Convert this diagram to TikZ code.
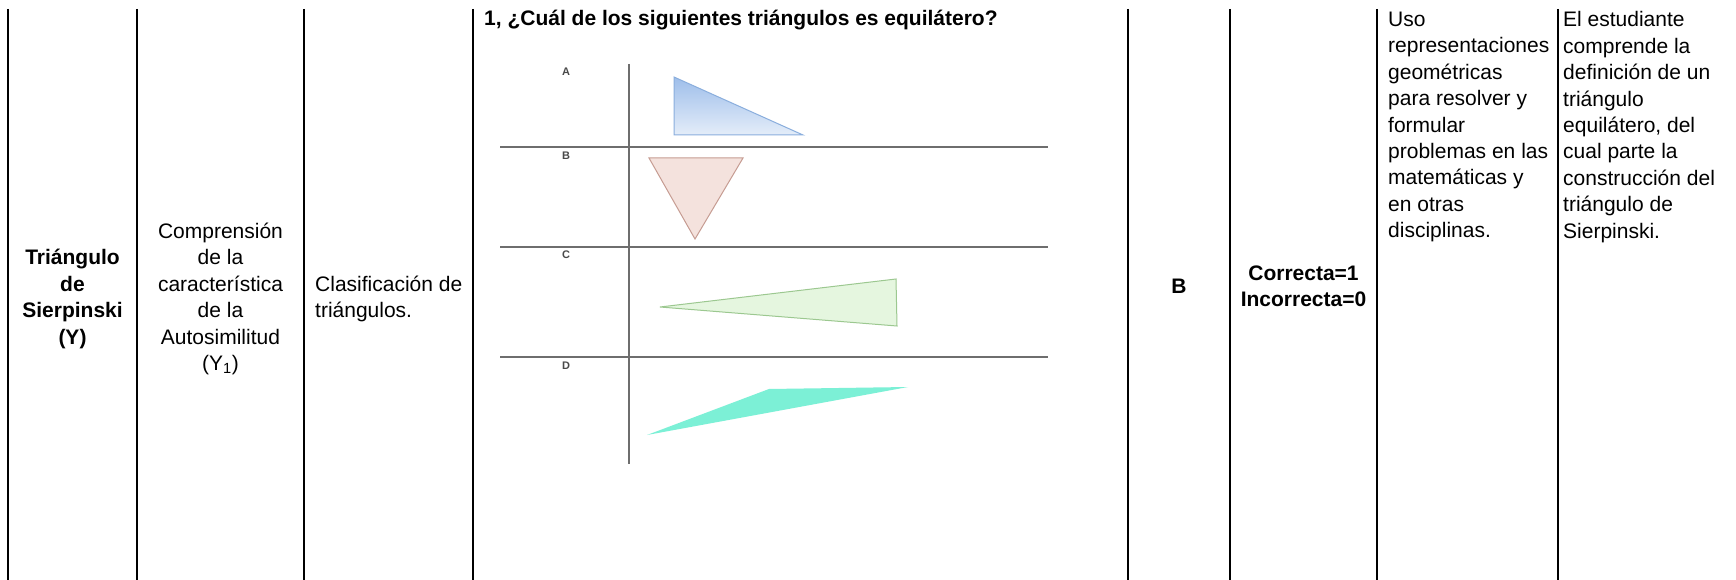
\documentclass[tikz,border=0pt]{standalone}
\usepackage{fontspec}
\setmainfont{Liberation Sans}
\usepackage{tikz}
\usetikzlibrary{calc}

\definecolor{axisgray}{HTML}{6E6E6E}
\definecolor{lblgray}{HTML}{4A4A4A}
\definecolor{triAtop}{HTML}{9EBEEA}
\definecolor{triAbot}{HTML}{E4EDF9}
\definecolor{triAedge}{HTML}{8AAEDD}
\definecolor{triBfill}{HTML}{F4E2DD}
\definecolor{triBedge}{HTML}{C69C92}
\definecolor{triCfill}{HTML}{E5F6DF}
\definecolor{triCedge}{HTML}{9CC890}
\definecolor{triDfill}{HTML}{7CF0D6}

\begin{document}
\begin{tikzpicture}[x=1pt, y=-1pt,
    cell/.style={inner sep=0pt, font=\fontsize{21}{26.4}\selectfont},
    bcell/.style={inner sep=0pt, font=\fontsize{21}{26.4}\selectfont\bfseries},
    gridline/.style={line width=1.2pt},
    axisline/.style={line width=1.5pt, draw=axisgray},
    optlabel/.style={inner sep=0pt, font=\fontsize{11}{11}\selectfont\bfseries, text=lblgray}]
      \fill[white] (0,0) rectangle (1736,580);
      \useasboundingbox (0,0) rectangle (1736,580);
      % column rules
      \foreach \x in {8,137,304,473,1128,1230,1377,1558}
        \draw[gridline] (\x,9) -- (\x,580);
      % cells
      \node[bcell, align=center] (tema) at (72.5,299) {Triángulo\\de\\Sierpinski\\(Y)};
      \node[cell, align=center] (comp) at (220.5,299) {Comprensión\\de la\\característica\\de la\\Autosimilitud\\(Y\textsubscript{1})};
      \node[cell, align=left, anchor=west] (clasif) at (315,299) {Clasificación de\\triángulos.};
      \node[bcell, anchor=west] (preg) at (484,20) {1, ¿Cuál de los siguientes triángulos es equilátero?};
      \node[bcell] (clave) at (1179,286) {B};
      \node[bcell, align=center] (valor) at (1303.5,286) {Correcta=1\\Incorrecta=0};
      \node[cell, align=left, anchor=west] (estandar) at (1388,127) {Uso\\representaciones\\geométricas\\para resolver y\\formular\\problemas en las\\matemáticas y\\en otras\\disciplinas.};
      \node[cell, align=left, anchor=west] (desc) at (1563,127) {El estudiante\\comprende la\\definición de un\\triángulo\\equilátero, del\\cual parte la\\construcción del\\triángulo de\\Sierpinski.};
      % options picture
      \draw[axisline] (629,64) -- (629,464);
      \foreach \y in {147,247,357}
        \draw[axisline] (500,\y) -- (1048,\y);
      \node[optlabel] (optA) at (566,72) {A};
      \node[optlabel] (optB) at (566,156) {B};
      \node[optlabel] (optC) at (566,255) {C};
      \node[optlabel] (optD) at (566,366) {D};
      \shade[top color=triAtop, bottom color=triAbot] (674,77) -- (674,135) -- (803,135) -- cycle;
      \draw[triAedge, line width=1pt] (674,77) -- (674,135) -- (803,135) -- cycle;
      \filldraw[fill=triBfill, draw=triBedge, line width=1pt] (649,158) -- (743,158) -- (695,239) -- cycle;
      \filldraw[fill=triCfill, draw=triCedge, line width=1pt] (660,307) -- (896,279) -- (897,326) -- cycle;
      \fill[triDfill] (647,435) -- (769,389) -- (908,387) -- cycle;
    \end{tikzpicture}
\end{document}
